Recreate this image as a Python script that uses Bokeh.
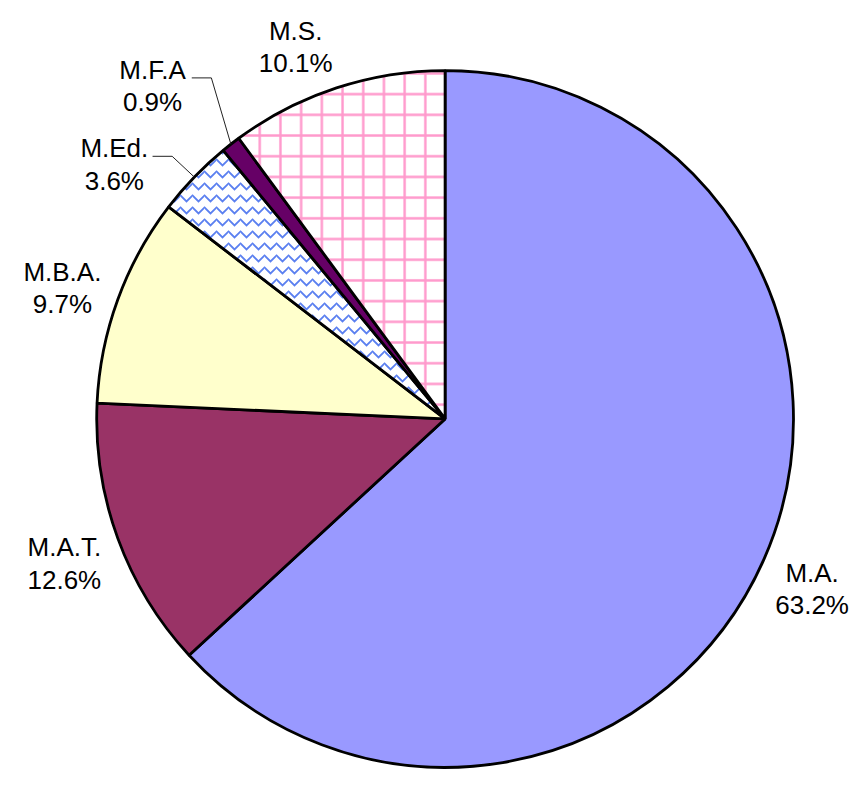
import numpy as np
from bokeh.plotting import figure
from bokeh.models import Range1d, ColumnDataSource
from bokeh.embed import file_html
from bokeh.resources import INLINE
from bokeh.core.properties import value

# ---- data ----
categories = ["M.A.", "M.A.T.", "M.B.A.", "M.Ed.", "M.F.A", "M.S."]
shares = [63.2, 12.6, 9.7, 3.6, 0.9, 10.1]

# ---- styles ----
fills = ["#9999FF", "#993366", "#FFFFCC", "#FFFFFF", "#660066", "#FFFFFF"]
hatch_patterns = ["blank", "blank", "blank", "horizontal_wave", "blank", "cross"]
hatch_colors = ["#000000", "#000000", "#000000", "#5B80F0", "#000000", "#FF99CC"]
hatch_scales = [12.0, 12.0, 12.0, 12.0, 12.0, 20.7]
hatch_weights = [1.0, 1.0, 1.0, 1.8, 1.0, 2.4]

# ---- layout (reference pixel coordinates mapped into the figure) ----
W, H = 849, 769
S = 0.98          # slight scale so the whole chart fits the figure
A, B = 8.0, -1.0  # offsets
def X(ix):
    return A + S * ix
def Y(iy):
    return H - (B + S * iy)

cx, cy = X(445.5), Y(428)
R = 355.5 * S
label_x = [820, 57, 55, 108, 147, 293]
label_base = [585, 559, 278, 152, 72, 32]
line_gap = 33
leader = {"M.Ed.": [(147, 160), (167, 160)], "M.F.A": [(187, 80), (207, 80)]}

total = sum(shares)
cum = np.concatenate([[0], np.cumsum(shares)])
start = np.pi / 2 - 2 * np.pi * cum[:-1] / total
end = np.pi / 2 - 2 * np.pi * cum[1:] / total
mid = np.pi / 2 - 2 * np.pi * (cum[:-1] + np.array(shares) / 2) / total

src = ColumnDataSource(dict(
    cat=categories, start=start, end=end, fill=fills,
    hp=hatch_patterns, hc=hatch_colors, hs=hatch_scales, hw=hatch_weights,
))

p = figure(width=W, height=H, output_backend="svg", toolbar_location=None,
           x_range=Range1d(0, W), y_range=Range1d(0, H),
           min_border=0, min_border_left=0, min_border_right=0,
           min_border_top=0, min_border_bottom=0)
p.axis.visible = False
p.grid.visible = False
p.outline_line_color = None
p.background_fill_color = "white"
p.border_fill_color = "white"

p.wedge(x=cx, y=cy, radius=R, start_angle="start", end_angle="end",
        direction="clock", fill_color="fill", line_color="black",
        line_width=2.8, hatch_pattern="hp", hatch_color="hc",
        hatch_scale="hs", hatch_weight="hw", source=src)

for i, c in enumerate(categories):
    if c in leader:
        pts = leader[c]
        xs = [X(pts[0][0]), X(pts[1][0]), cx + R * np.cos(mid[i])]
        ys = [Y(pts[0][1]), Y(pts[1][1]), cy + R * np.sin(mid[i])]
        p.line(xs, ys, line_color="#222222", line_width=1)

tsrc = ColumnDataSource(dict(
    x=[X(v) for v in label_x],
    y1=[Y(v) for v in label_base],
    y2=[Y(v + line_gap) for v in label_base],
    name=categories,
    pct=[f"{v:.1f}%" for v in shares],
))
for col, ycol in (("name", "y1"), ("pct", "y2")):
    p.text(x="x", y=ycol, text=col, source=tsrc, text_align="center",
           text_baseline="alphabetic", text_font=value("Liberation Sans"),
           text_font_size="26px", text_color="black")

open("out.html", "w").write(file_html(p, INLINE))
